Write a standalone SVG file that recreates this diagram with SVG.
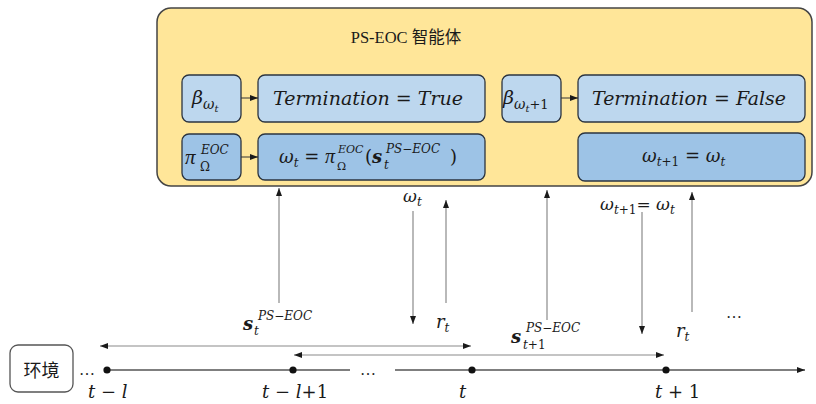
<svg xmlns="http://www.w3.org/2000/svg" width="816" height="404" viewBox="0 0 816 404">
<style>
.m{font-family:"DejaVu Serif","Liberation Serif",serif;font-style:italic;fill:#1a1a1a}
.u{font-style:normal}
.p{font-family:"Liberation Serif",serif;font-style:italic}
.b{font-weight:bold}
.cn{font-family:"Liberation Serif","Noto Sans CJK SC",serif;fill:#1a1a1a}
.lb{fill:#bdd7ee;stroke:#2b3440;stroke-width:1.3}
.db{fill:#9dc3e6;stroke:#2b3440;stroke-width:1.3}
.ar{stroke:#8a8a8a;stroke-width:1.2;fill:none}
.tl{stroke:#555;stroke-width:1.6;fill:none}
.sa{stroke:#333;stroke-width:1;fill:none}
</style>
<defs>
<marker id="ah" viewBox="0 0 8 6" refX="8" refY="3" markerWidth="8" markerHeight="6" markerUnits="userSpaceOnUse" orient="auto-start-reverse">
<path d="M0,0 L8,3 L0,6 z" fill="#1a1a1a"/>
</marker>
</defs>

<g id="agent">
<rect x="157" y="8" width="655" height="178" rx="14" fill="#ffe699" stroke="#444" stroke-width="1.5"/>
<text class="cn" x="406" y="43" font-size="16.5" text-anchor="middle">PS-EOC 智能体</text>
</g>

<g id="beta_t">
<rect class="lb" x="182" y="75" width="59" height="47" rx="7"/>
<text class="m" x="192" y="104" font-size="19">β<tspan font-size="14" dy="5">ω</tspan><tspan font-size="10" dy="3">t</tspan></text>
</g>
<g id="term_true">
<rect class="lb" x="258" y="75" width="227" height="47" rx="7"/>
<text class="m" x="273" y="105" font-size="18" textLength="190" lengthAdjust="spacingAndGlyphs">Termination <tspan class="u">=</tspan> True</text>
</g>
<g id="pi">
<rect class="db" x="182" y="134" width="59" height="46" rx="7"/>
<text class="m" x="185" y="164" font-size="21"><tspan class="p">π</tspan><tspan class="u" font-size="12" x="200" y="171">Ω</tspan><tspan font-size="12" x="201" y="154">EOC</tspan></text>
</g>
<g id="omega_t">
<rect class="db" x="258" y="134" width="227" height="46" rx="7"/>
<text class="m" x="279" y="163" font-size="18">ω<tspan font-size="12" dy="4">t</tspan><tspan class="u" dy="-4"> = </tspan><tspan class="p" font-size="20">π</tspan><tspan class="u" font-size="11" x="337" y="170">Ω</tspan><tspan font-size="11" x="338" y="153">EOC</tspan><tspan class="u" x="365" y="163">(</tspan><tspan class="b">s</tspan><tspan font-size="12" x="384" y="169">t</tspan><tspan font-size="12" x="386" y="153">PS−EOC</tspan><tspan class="u" x="450" y="163">)</tspan></text>
</g>
<g id="beta_t1">
<rect class="lb" x="502" y="75" width="59" height="47" rx="7"/>
<text class="m" x="503" y="104" font-size="19">β<tspan font-size="14" dy="5">ω</tspan><tspan font-size="10" dy="3">t</tspan><tspan class="u" font-size="13" dy="-3">+1</tspan></text>
</g>
<g id="term_false">
<rect class="lb" x="578" y="75" width="227" height="47" rx="7"/>
<text class="m" x="592" y="105" font-size="18" textLength="194" lengthAdjust="spacingAndGlyphs">Termination <tspan class="u">=</tspan> False</text>
</g>
<g id="omega_t1">
<rect class="db" x="578" y="133" width="227" height="48" rx="7"/>
<text class="m" x="642" y="162" font-size="18">ω<tspan font-size="12" dy="4">t</tspan><tspan class="u" font-size="12">+1</tspan><tspan class="u" dy="-4"> = </tspan>ω<tspan font-size="12" dy="4">t</tspan></text>
</g>

<g id="env">
<rect x="10" y="345" width="63" height="47" rx="8" fill="#fff" stroke="#555" stroke-width="1.3"/>
<text class="cn" x="41.5" y="377" font-size="18" text-anchor="middle">环境</text>
</g>

<g id="connectors">
<line class="sa" x1="241" y1="98" x2="258" y2="98" marker-end="url(#ah)"/>
<line class="sa" x1="241" y1="157" x2="258" y2="157" marker-end="url(#ah)"/>
<line class="sa" x1="561" y1="98" x2="578" y2="98" marker-end="url(#ah)"/>
<line class="ar" x1="279" y1="303" x2="279" y2="188" marker-end="url(#ah)"/>
<line class="ar" x1="413" y1="211" x2="413" y2="324" marker-end="url(#ah)"/>
<line class="ar" x1="446" y1="303" x2="446" y2="200" marker-end="url(#ah)"/>
<line class="ar" x1="547" y1="320" x2="547" y2="190" marker-end="url(#ah)"/>
<line class="ar" x1="642" y1="212" x2="642" y2="334" marker-end="url(#ah)"/>
<line class="ar" x1="692" y1="312" x2="692" y2="192" marker-end="url(#ah)"/>
<line class="ar" x1="100" y1="346" x2="471" y2="346" marker-start="url(#ah)" marker-end="url(#ah)"/>
<line class="ar" x1="294" y1="355" x2="664" y2="355" marker-start="url(#ah)" marker-end="url(#ah)"/>
<line class="tl" x1="107" y1="370" x2="350" y2="370"/>
<line class="tl" x1="395" y1="370" x2="805" y2="370" marker-end="url(#ah)"/>
<circle cx="107" cy="370" r="3.6" fill="#111"/>
<circle cx="293" cy="370" r="3.6" fill="#111"/>
<circle cx="472" cy="370" r="3.6" fill="#111"/>
<circle cx="666" cy="370" r="3.6" fill="#111"/>
</g>

<g id="labels">
<text class="m" x="403" y="202" font-size="17">ω<tspan font-size="12" dy="4">t</tspan></text>
<text class="m" x="436" y="328" font-size="18">r<tspan font-size="12" dy="4">t</tspan></text>
<text class="m b" x="243" y="330" font-size="18">s<tspan class="m" font-weight="normal" font-size="12" x="254" y="335">t</tspan><tspan font-weight="normal" font-size="12" x="258" y="320">PS−EOC</tspan></text>
<text class="m b" x="511" y="343" font-size="18">s<tspan font-weight="normal" font-size="12" x="523" y="349">t</tspan><tspan class="u" font-weight="normal" font-size="12">+1</tspan><tspan font-weight="normal" font-size="12" x="526" y="332">PS−EOC</tspan></text>
<text class="m" x="600" y="210" font-size="17">ω<tspan font-size="12" dy="4">t</tspan><tspan class="u" font-size="12">+1</tspan><tspan class="u" dy="-4">= </tspan>ω<tspan font-size="12" dy="4">t</tspan></text>
<text class="m" x="676" y="337" font-size="18">r<tspan font-size="12" dy="4">t</tspan></text>
<text class="cn" x="726" y="318" font-size="16">…</text>
<text class="cn" x="79" y="375" font-size="16">…</text>
<text class="cn" x="360" y="375" font-size="16">…</text>
<text class="m" x="88" y="398" font-size="18">t <tspan class="u">−</tspan> l</text>
<text class="m" x="262" y="398" font-size="18">t <tspan class="u">−</tspan> l<tspan class="u">+1</tspan></text>
<text class="m" x="459" y="398" font-size="18">t</text>
<text class="m" x="655" y="398" font-size="18">t <tspan class="u">+ 1</tspan></text>
</g>
</svg>
